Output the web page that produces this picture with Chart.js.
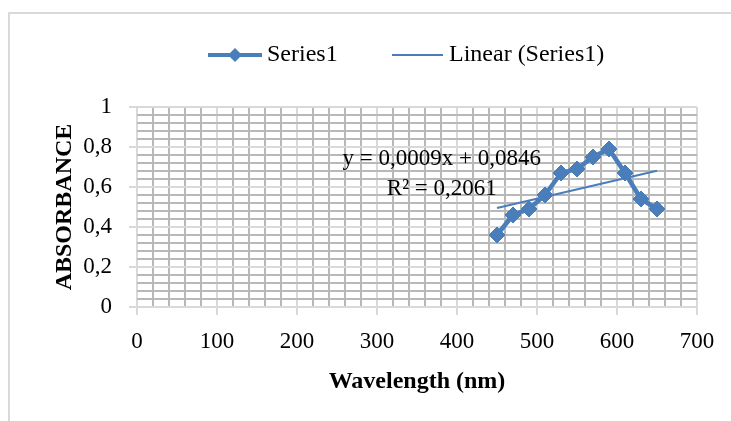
<!DOCTYPE html>
<html>
<head>
<meta charset="utf-8">
<script src="https://cdn.jsdelivr.net/npm/chart.js@4.4.1/dist/chart.umd.min.js"></script>
<style>
  body { margin: 0; background: #fff; }
  canvas { display: block; }
</style>
</head>
<body>
<canvas id="myChart" width="731" height="421"></canvas>
<script>
// values
var wavelength = [450, 470, 490, 510, 530, 550, 570, 590, 610, 630, 650];
var absorbance = [0.36, 0.46, 0.49, 0.56, 0.67, 0.69, 0.75, 0.79, 0.67, 0.54, 0.49];
var xTicks = [0, 100, 200, 300, 400, 500, 600, 700];
var yTicks = [0, 0.2, 0.4, 0.6, 0.8, 1];
var legendLabels = ['Series1', 'Linear (Series1)'];
var equationLines = ['y = 0,0009x + 0,0846', 'R\u00b2 = 0,2061'];

var blue = '#4a7ebb';
var serif = '"Liberation Serif", "Times New Roman", serif';

// least squares trend line from the data
var n = wavelength.length, sx = 0, sy = 0, sxx = 0, sxy = 0;
for (var i = 0; i < n; i++) {
    sx += wavelength[i]; sy += absorbance[i];
    sxx += wavelength[i] * wavelength[i]; sxy += wavelength[i] * absorbance[i];
}
var slope = (n * sxy - sx * sy) / (n * sxx - sx * sx);
var intercept = (sy - slope * sx) / n;
var xFirst = wavelength[0], xLast = wavelength[n - 1];
var trend = [
    {x: xFirst, y: slope * xFirst + intercept},
    {x: xLast, y: slope * xLast + intercept}
];

var points = wavelength.map(function (w, i) { return {x: w, y: absorbance[i]}; });

function isMajor(list, v) {
    return list.some(function (t) { return Math.abs(t - v) < 1e-6; });
}

var frame = {
    id: 'frame',
    beforeDraw: function (chart) {
        var c = chart.ctx;
        c.save();
        c.fillStyle = '#fff';
        c.fillRect(0, 0, chart.width, chart.height);
        c.strokeStyle = '#d9d9d9';
        c.lineWidth = 2;
        c.strokeRect(9, 13, 760, 440);
        c.restore();
    },
    afterDatasetsDraw: function (chart) {
        var c = chart.ctx;
        var xs = chart.scales.x, ys = chart.scales.y;
        c.save();
        // equation label
        c.fillStyle = '#000';
        c.font = '23px ' + serif;
        c.textAlign = 'center';
        c.textBaseline = 'alphabetic';
        c.fillText(equationLines[0], xs.getPixelForValue(381), ys.getPixelForValue(0.71));
        c.fillText(equationLines[1], xs.getPixelForValue(381), ys.getPixelForValue(0.56));

        // legend
        var ly = 55;
        c.strokeStyle = blue;
        c.lineWidth = 4;
        c.beginPath(); c.moveTo(208, ly); c.lineTo(262, ly); c.stroke();
        c.fillStyle = blue;
        c.beginPath();
        c.moveTo(235, ly - 7); c.lineTo(242, ly); c.lineTo(235, ly + 7); c.lineTo(228, ly);
        c.closePath(); c.fill();
        c.lineWidth = 2;
        c.beginPath(); c.moveTo(392, ly); c.lineTo(443, ly); c.stroke();
        c.fillStyle = '#000';
        c.font = '24px ' + serif;
        c.textAlign = 'left';
        c.textBaseline = 'middle';
        c.fillText(legendLabels[0], 267, ly);
        c.fillText(legendLabels[1], 449, ly);
        c.restore();
    }
};

var ctx = document.getElementById('myChart').getContext('2d');
var myChart = new Chart(ctx, {
    type: 'scatter',
    data: {
        datasets: [{
            label: legendLabels[1],
            data: trend,
            showLine: true,
            borderColor: blue,
            borderWidth: 2,
            pointRadius: 0
        }, {
            label: legendLabels[0],
            data: points,
            showLine: true,
            borderColor: blue,
            backgroundColor: blue,
            borderWidth: 4.5,
            pointStyle: 'rectRot',
            pointRadius: 8,
            pointBorderWidth: 1,
            pointBorderColor: blue,
            pointBackgroundColor: blue
        }]
    },
    options: {
        responsive: false,
        animation: false,
        devicePixelRatio: 1,
        layout: { padding: { top: 107, right: 34, bottom: 0, left: 0 } },
        plugins: {
            legend: { display: false },
            tooltip: { enabled: false }
        },
        scales: {
            x: {
                type: 'linear',
                min: 0,
                max: 700,
                afterFit: function (s) { s.height = 114; },
                border: { display: false },
                grid: {
                    color: function (c) { return isMajor(xTicks, c.tick.value) ? '#d9d9d9' : '#b8b8b8'; },
                    lineWidth: function (c) { return isMajor(xTicks, c.tick.value) ? 2 : 2; },
                    tickColor: function (c) { return isMajor(xTicks, c.tick.value) ? '#d9d9d9' : 'rgba(0,0,0,0)'; },
                    tickLength: 8
                },
                ticks: {
                    stepSize: 20,
                    autoSkip: false,
                    maxRotation: 0,
                    padding: 13,
                    color: '#000',
                    font: { family: serif, size: 23 },
                    callback: function (v) { return isMajor(xTicks, v) ? String(v) : ''; }
                },
                title: {
                    display: true,
                    text: 'Wavelength (nm)',
                    color: '#000',
                    font: { family: serif, size: 24, weight: 'bold' },
                    padding: { top: 0, bottom: 25 }
                }
            },
            y: {
                min: 0,
                max: 1,
                afterFit: function (s) { s.width = 137; },
                border: { display: false },
                grid: {
                    color: function (c) { return isMajor(yTicks, c.tick.value) ? '#d9d9d9' : '#b8b8b8'; },
                    lineWidth: function (c) { return isMajor(yTicks, c.tick.value) ? 2 : 2; },
                    tickColor: function (c) { return isMajor(yTicks, c.tick.value) ? '#d9d9d9' : 'rgba(0,0,0,0)'; },
                    tickLength: 8
                },
                ticks: {
                    stepSize: 0.04,
                    autoSkip: false,
                    padding: 17,
                    color: '#000',
                    font: { family: serif, size: 23 },
                    callback: function (v) {
                        return isMajor(yTicks, v) ? String(Math.round(v * 10) / 10).replace('.', ',') : '';
                    }
                },
                title: {
                    display: true,
                    text: 'ABSORBANCE',
                    color: '#000',
                    font: { family: serif, size: 24, weight: 'bold' },
                    padding: { top: 50, bottom: 0 }
                }
            }
        }
    },
    plugins: [frame]
});
</script>
</body>
</html>
